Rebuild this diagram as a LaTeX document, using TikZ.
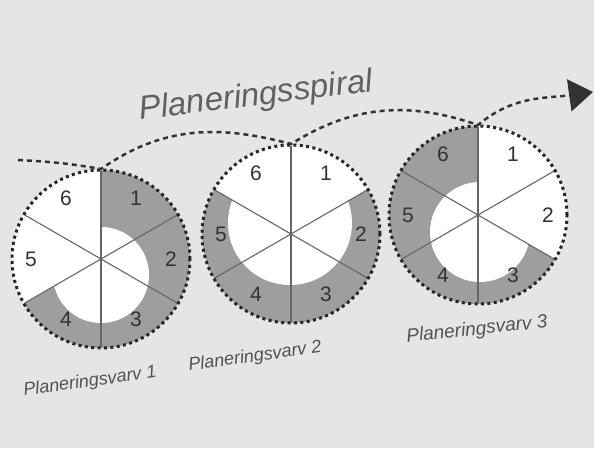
\documentclass[tikz,border=0pt]{standalone}
\usepackage{fontspec}
\setsansfont{Liberation Sans}
\usetikzlibrary{arrows.meta, calc}
\definecolor{paper}{HTML}{E5E5E5}
\definecolor{band}{HTML}{9E9E9E}
\definecolor{ink}{HTML}{333333}
\tikzset{
  rim/.style={draw=black!85, line width=3pt, dash pattern=on 3pt off 3.4pt},
  spoke/.style={draw=black!60, line width=1.1pt},
  spiralline/.style={draw=ink, line width=2.5pt, dash pattern=on 5pt off 4pt,
    -{Triangle[length=24pt, width=32pt]}},
  num/.style={font=\sffamily\fontsize{21}{21}\selectfont, text=ink},
  varv/.style={font=\sffamily\itshape\fontsize{18}{18}\selectfont, text=ink!85},
}
\begin{document}
\begin{tikzpicture}[x=1pt, y=1pt,
    title/.style={font=\sffamily\itshape\fontsize{33}{33}\selectfont, text=black!62}]
  \useasboundingbox (0,0) rectangle (594,448);
  \fill[paper] (0,0) rectangle (594,448);
  % wheel centres
  \coordinate (c1) at (101,189);
  \coordinate (c2) at (291,214);
  \coordinate (c3) at (478,233);
  % wheels: grey band, spokes, numbers, rim
  \foreach \c/\from/\to/\ix/\iy/\ir in {c1/90/-150/101/173/48,
      c2/30/-210/290/225/62, c3/-30/-270/480/216/50} {
    \fill[white] (\c) circle[radius=89];
    \fill[band] (\c) -- ++(\from:89) arc[start angle=\from, end angle=\to, radius=89] -- cycle;
    \fill[white] (\ix,\iy) circle[radius=\ir];
    \foreach \a in {90,30,150}
      \draw[spoke] ($(\c)+(\a:88)$) -- ($(\c)+(\a+180:88)$);
    \foreach \k in {1,...,6}
      \node[num] (\c-n\k) at ($(\c)+(120-60*\k:70)$) {\k};
    \draw[rim] (\c) circle[radius=89];
  }
  % spiral
  \coordinate (s0) at (18,288);
  \coordinate (t1) at (101,279);
  \coordinate (t2) at (291,304);
  \coordinate (t3) at (478,323);
  \coordinate (tip) at (593,356);
  \draw[spiralline] (s0) to[out=-3, in=170] (t1) to[out=35, in=165] (t2)
    to[out=32, in=161] (t3) to[out=40, in=188] (tip);
  % texts
  \node[title, rotate=7] (spiral) at (256,351) {Planeringsspiral};
  \node[varv, rotate=8] (v1) at (90,66) {Planeringsvarv 1};
  \node[varv, rotate=8] (v2) at (255,91) {Planeringsvarv 2};
  \node[varv, rotate=6, font=\sffamily\itshape\fontsize{19}{19}\selectfont] (v3) at (477,118) {Planeringsvarv 3};
\end{tikzpicture}
\end{document}
